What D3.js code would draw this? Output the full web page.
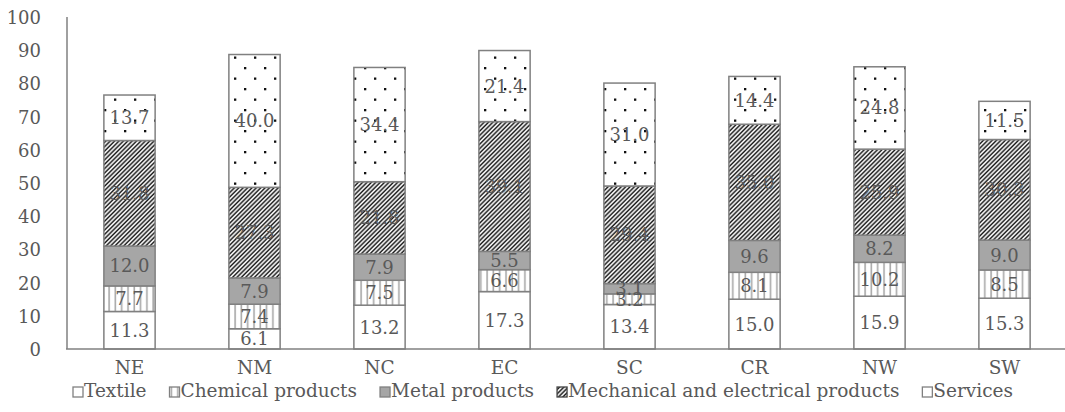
<!DOCTYPE html>
<html>
<head>
<meta charset="utf-8">
<script src="https://cdn.jsdelivr.net/npm/d3@7"></script>
<style>
  html, body { margin: 0; padding: 0; background: #fff; }
  svg { display: block; }
</style>
</head>
<body>
<svg id="chart" width="1065" height="412" font-family="'DejaVu Serif', serif"></svg>
<script>
// Regions and sector shares (%)
const regions = ["NE", "NM", "NC", "EC", "SC", "CR", "NW", "SW"];
const sectors = ["Textile", "Chemical products", "Metal products", "Mechanical and electrical products", "Services"];
const textile    = [11.3, 6.1, 13.2, 17.3, 13.4, 15.0, 15.9, 15.3];
const chemical   = [7.7, 7.4, 7.5, 6.6, 3.2, 8.1, 10.2, 8.5];
const metal      = [12.0, 7.9, 7.9, 5.5, 3.1, 9.6, 8.2, 9.0];
const mechanical = [31.8, 27.3, 21.8, 39.1, 29.4, 35.0, 25.9, 30.3];
const services   = [13.7, 40.0, 34.4, 21.4, 31.0, 14.4, 24.8, 11.5];
const yTicks = [0, 10, 20, 30, 40, 50, 60, 70, 80, 90, 100];

const seriesValues = [textile, chemical, metal, mechanical, services];
const rows = regions.map((r, i) => {
  const o = { region: r };
  sectors.forEach((s, k) => { o[s] = seriesValues[k][i]; });
  return o;
});

const svg = d3.select("#chart");
const textColor = "#595959";
const edge = "#808080";
const serif = "'DejaVu Serif', serif";

// Fill patterns
const defs = svg.append("defs");
const stripes = defs.append("pattern").attr("id", "pat-chem")
  .attr("patternUnits", "userSpaceOnUse").attr("width", 6.3).attr("height", 10);
stripes.append("rect").attr("width", 6.3).attr("height", 10).attr("fill", "#fff");
stripes.append("line").attr("x1", 2).attr("x2", 2).attr("y1", 0).attr("y2", 10)
  .attr("stroke", "#a8a8a8").attr("stroke-width", 1.6);

const hatch = defs.append("pattern").attr("id", "pat-mech")
  .attr("patternUnits", "userSpaceOnUse").attr("width", 3.1).attr("height", 10)
  .attr("patternTransform", "rotate(45)");
hatch.append("rect").attr("width", 3.1).attr("height", 10).attr("fill", "#fff");
hatch.append("line").attr("x1", 1).attr("x2", 1).attr("y1", 0).attr("y2", 10)
  .attr("stroke", "#1a1a1a").attr("stroke-width", 1.5);

const dots = defs.append("pattern").attr("id", "pat-serv")
  .attr("patternUnits", "userSpaceOnUse").attr("width", 20).attr("height", 21);
dots.append("rect").attr("width", 20).attr("height", 21).attr("fill", "#fff");
dots.append("rect").attr("x", 4).attr("y", 4).attr("width", 2.3).attr("height", 2.3).attr("fill", "#111");
dots.append("rect").attr("x", 14).attr("y", 14.5).attr("width", 2.3).attr("height", 2.3).attr("fill", "#111");

const fills = {
  "Textile": "#ffffff",
  "Chemical products": "url(#pat-chem)",
  "Metal products": "#a6a6a6",
  "Mechanical and electrical products": "url(#pat-mech)",
  "Services": "url(#pat-serv)"
};

// Scales
const x = d3.scaleBand().domain(regions).range([67, 1067])
  .paddingInner(0.59).paddingOuter(0.295);
const y = d3.scaleLinear().domain([0, 100]).range([349, 17]);

const stacked = d3.stack().keys(sectors)(rows);

// Bars
const layers = svg.append("g").selectAll("g").data(stacked).join("g")
  .attr("fill", d => fills[d.key]);
layers.selectAll("rect").data(d => d).join("rect")
  .attr("x", d => x(d.data.region))
  .attr("width", x.bandwidth())
  .attr("y", d => y(d[1]))
  .attr("height", d => y(d[0]) - y(d[1]))
  .attr("stroke", edge).attr("stroke-width", 1.5);

// Value labels
const lab = svg.append("g").attr("font-size", 18).attr("fill", textColor).attr("text-anchor", "middle");
stacked.forEach(layer => {
  lab.selectAll(null).data(layer).join("text")
    .attr("x", d => x(d.data.region) + x.bandwidth() / 2)
    .attr("y", d => (y(d[0]) + y(d[1])) / 2)
    .attr("dy", "0.36em")
    .text(d => (d[1] - d[0]).toFixed(1));
});

// Axes
const yAxis = svg.append("g").attr("transform", "translate(67,0)")
  .call(d3.axisLeft(y).tickValues(yTicks).tickSize(0).tickPadding(26));
yAxis.attr("font-family", serif);
yAxis.select(".domain").remove();
yAxis.selectAll("text").attr("font-size", 18)
  .attr("fill", textColor).attr("dy", "0.36em");

svg.append("line").attr("x1", 67).attr("x2", 67).attr("y1", 17).attr("y2", 349)
  .attr("stroke", edge).attr("stroke-width", 1.5);

const xAxis = svg.append("g").attr("transform", "translate(0,349)")
  .call(d3.axisBottom(x).tickSize(0).tickPadding(12));
xAxis.attr("font-family", serif);
xAxis.select(".domain").remove();
xAxis.selectAll("text").attr("font-size", 18.5)
  .attr("fill", textColor);

svg.append("line").attr("x1", 66).attr("x2", 1065).attr("y1", 349).attr("y2", 349)
  .attr("stroke", edge).attr("stroke-width", 1.5);

// Legend: items spread evenly across the span below the axis
const legend = svg.append("g").attr("transform", "translate(0,397)");
const legendLeft = 73, legendRight = 1013;
const entries = sectors.map(s => {
  const g = legend.append("g");
  g.append("rect").attr("x", 0).attr("y", -10).attr("width", 10).attr("height", 10)
    .attr("fill", fills[s]).attr("stroke", s === "Mechanical and electrical products" ? "#444" : edge)
    .attr("stroke-width", 1.3);
  const t = g.append("text").attr("x", 11).attr("y", 0).attr("font-size", 18.5)
    .attr("fill", textColor).text(s);
  return { g, w: 11 + t.node().getComputedTextLength() };
});
const sumW = d3.sum(entries, e => e.w);
const gap = Math.max(8, (legendRight - legendLeft - sumW) / (entries.length - 1));
let cursor = legendLeft;
entries.forEach(e => {
  e.g.attr("transform", `translate(${cursor},0)`);
  cursor += e.w + gap;
});
</script>
</body>
</html>
